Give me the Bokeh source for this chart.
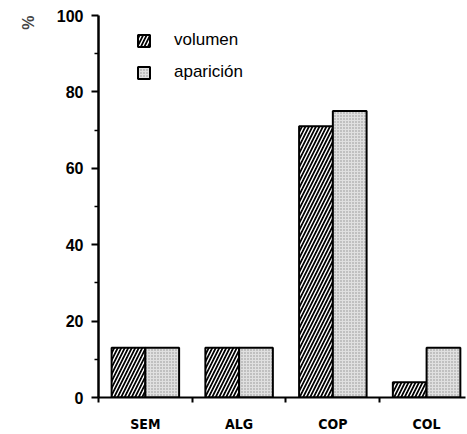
from bokeh.plotting import figure
from bokeh.models import (ColumnDataSource, FixedTicker, Legend, LegendItem,
                          Title, Range1d)
from bokeh.transform import dodge
from bokeh.embed import file_html
from bokeh.resources import INLINE

categories = ["SEM", "ALG", "COP", "COL"]
volumen = [13, 13, 71, 4]
aparicion = [13, 13, 75, 13]
y_ticks = [0, 20, 40, 60, 80, 100]
y_minor = [10, 30, 50, 70, 90]

xpos = [i + 0.5 for i in range(len(categories))]
src = ColumnDataSource(dict(x=xpos, volumen=volumen, aparicion=aparicion, cat=categories))

p = figure(width=467, height=434, output_backend="svg", toolbar_location=None,
           x_range=Range1d(0, 3.915), y_range=Range1d(0, 100),
           min_border_left=97, min_border_right=2, min_border_top=15, min_border_bottom=35)
p.outline_line_color = None
p.xgrid.visible = False
p.ygrid.visible = False
p.background_fill_color = "white"

r1 = p.vbar(x=dodge("x", -0.18), top="volumen", width=0.36, source=src,
            fill_color="black", line_color="black", line_width=2,
            hatch_pattern="/", hatch_color="white", hatch_scale=7, hatch_weight=1.4)
r2 = p.vbar(x=dodge("x", 0.18), top="aparicion", width=0.36, source=src,
            fill_color="#e0e0e0", line_color="black", line_width=2,
            hatch_pattern=".", hatch_color="#909090", hatch_scale=3, hatch_weight=1)

# y axis
ya = p.yaxis[0]
ya.ticker = FixedTicker(ticks=y_ticks, minor_ticks=y_minor)
ya.axis_line_width = 2.5
ya.major_tick_out = 7
ya.major_tick_in = 0
ya.minor_tick_out = 4
ya.minor_tick_in = 0
ya.major_tick_line_width = 2
ya.minor_tick_line_width = 1.5
ya.major_label_standoff = 8
ya.major_label_text_font = "Liberation Sans"
ya.major_label_text_font_style = "bold"
ya.major_label_text_font_size = "16px"
ya.major_label_text_color = "black"

# x axis
xa = p.xaxis[0]
xa.ticker = FixedTicker(ticks=xpos, minor_ticks=[0, 1, 2, 3])
xa.major_label_overrides = {x: c for x, c in zip(xpos, categories)}
xa.axis_line_width = 2
xa.major_tick_out = 0
xa.major_tick_in = 0
xa.minor_tick_out = 5
xa.minor_tick_in = 0
xa.minor_tick_line_width = 2
xa.major_label_standoff = 13
xa.major_label_text_font = "DejaVu Sans Condensed, Liberation Sans, sans-serif"
xa.major_label_text_font_style = "bold"
xa.major_label_text_font_size = "14px"
xa.major_label_text_color = "black"

legend = Legend(items=[LegendItem(label="volumen", renderers=[r1]),
                       LegendItem(label="aparición", renderers=[r2])],
                location=(38, 315), orientation="vertical",
                glyph_width=15, glyph_height=15, label_height=15,
                label_standoff=23, spacing=12, padding=0, margin=0,
                border_line_color=None, background_fill_alpha=0,
                label_text_font="Liberation Sans", label_text_font_size="17px",
                label_text_color="black")
p.add_layout(legend)

p.add_layout(Title(text="%", align="right", text_font="Liberation Sans",
                   text_font_style="bold", text_font_size="16px",
                   standoff=34, offset=0), "left")

open("out.html", "w").write(file_html(p, INLINE))
